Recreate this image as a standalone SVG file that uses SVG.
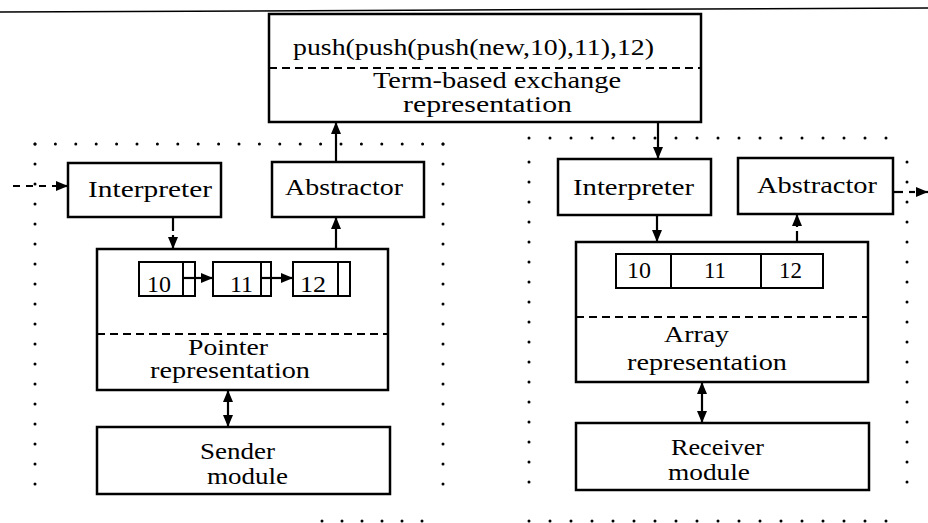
<svg xmlns="http://www.w3.org/2000/svg" width="928" height="523" viewBox="0 0 928 523">
<style>
.box{fill:#fff;stroke:#000;stroke-width:2.5}
.cell{fill:#fff;stroke:#000;stroke-width:2}
.div{stroke:#000;stroke-width:2}
.dash{stroke:#000;stroke-width:2.2;stroke-dasharray:8 5;fill:none}
.dots{stroke:#000;stroke-width:3;stroke-linecap:round;fill:none}
.t{font-family:"Liberation Serif","Times New Roman",serif;font-size:23px;fill:#000}
.c{stroke:#000;stroke-width:2.2;fill:none}
.cd{stroke:#000;stroke-width:2.2;fill:none;stroke-dasharray:7 6}
</style>
<defs>
<marker id="ah" markerUnits="userSpaceOnUse" markerWidth="12" markerHeight="10" refX="12" refY="5" orient="auto-start-reverse">
<path d="M0,0 L12,5 L0,10 z" fill="#000"/>
</marker>
</defs>
<rect width="928" height="523" fill="#fff"/>
<line x1="0" y1="12" x2="928" y2="8" stroke="#000" stroke-width="1.5"/>

<g id="region-left">
<line class="dots" x1="35" y1="144" x2="443" y2="144" stroke-dasharray="0 20.4"/>
<line class="dots" x1="35" y1="144" x2="35" y2="504" stroke-dasharray="0 20"/>
<line class="dots" x1="443" y1="144" x2="443" y2="504" stroke-dasharray="0 20"/>
<line class="dots" x1="322" y1="521" x2="442" y2="521" stroke-dasharray="0 20" stroke-width="2"/>
</g>
<g id="region-right">
<line class="dots" x1="529" y1="138" x2="907" y2="138" stroke-dasharray="0 21"/>
<line class="dots" x1="529" y1="162" x2="529" y2="502" stroke-dasharray="0 20"/>
<line class="dots" x1="907" y1="162" x2="907" y2="502" stroke-dasharray="0 20"/>
<line class="dots" x1="529" y1="521" x2="907" y2="521" stroke-dasharray="0 21" stroke-width="2"/>
</g>

<g id="connectors">
<line class="c" x1="336" y1="162" x2="336" y2="122" marker-end="url(#ah)"/>
<line class="c" x1="336" y1="249" x2="336" y2="217" marker-end="url(#ah)"/>
<line class="c" x1="173" y1="217" x2="173" y2="231"/>
<line class="c" x1="173" y1="235" x2="173" y2="249" marker-end="url(#ah)"/>
<line class="cd" x1="13" y1="186" x2="56" y2="186"/>
<line class="c" x1="56" y1="186" x2="68" y2="186" marker-end="url(#ah)"/>
<line class="c" x1="658" y1="122" x2="658" y2="159" marker-end="url(#ah)"/>
<line class="c" x1="657" y1="215" x2="657" y2="242" marker-end="url(#ah)"/>
<line class="c" x1="797" y1="243" x2="797" y2="231"/>
<line class="c" x1="797" y1="227" x2="797" y2="214" marker-end="url(#ah)"/>
<line class="c" x1="893" y1="192" x2="903" y2="192"/>
<line class="c" x1="909" y1="192" x2="915" y2="192"/>
<line class="c" x1="916" y1="192" x2="928" y2="192" marker-end="url(#ah)"/>
<line class="c" x1="228" y1="390" x2="228" y2="427" marker-start="url(#ah)" marker-end="url(#ah)"/>
<line class="c" x1="702" y1="382" x2="702" y2="423" marker-start="url(#ah)" marker-end="url(#ah)"/>
</g>

<g id="term-box">
<rect class="box" x="269" y="14" width="432" height="108"/>
<line class="dash" x1="269" y1="68" x2="701" y2="68"/>
<text class="t" x="293" y="55" textLength="361" lengthAdjust="spacingAndGlyphs">push(push(push(new,10),11),12)</text>
<text class="t" x="373" y="88" textLength="248" lengthAdjust="spacingAndGlyphs">Term-based exchange</text>
<text class="t" x="403" y="112" textLength="169" lengthAdjust="spacingAndGlyphs">representation</text>
</g>

<g id="interpreter-left">
<rect class="box" x="68" y="163" width="153" height="54"/>
<text class="t" x="88" y="197" textLength="124" lengthAdjust="spacingAndGlyphs">Interpreter</text>
</g>
<g id="abstractor-left">
<rect class="box" x="272" y="162" width="152" height="55"/>
<text class="t" x="285" y="195" textLength="118" lengthAdjust="spacingAndGlyphs">Abstractor</text>
</g>
<g id="pointer-repr">
<rect class="box" x="97" y="249" width="291" height="141"/>
<line class="dash" x1="97" y1="334" x2="388" y2="334"/>
<rect class="cell" x="139" y="262" width="56" height="34"/>
<line class="div" x1="183" y1="262" x2="183" y2="296"/>
<rect class="cell" x="213" y="262" width="58" height="34"/>
<line class="div" x1="261" y1="262" x2="261" y2="296"/>
<rect class="cell" x="293" y="262" width="57" height="34"/>
<line class="div" x1="338" y1="262" x2="338" y2="296"/>
<line class="c" x1="183" y1="278" x2="213" y2="278" marker-end="url(#ah)"/>
<line class="c" x1="261" y1="278" x2="293" y2="278" marker-end="url(#ah)"/>
<text class="t" x="147" y="292" textLength="24" lengthAdjust="spacingAndGlyphs">10</text>
<text class="t" x="230" y="292" textLength="23" lengthAdjust="spacingAndGlyphs">11</text>
<text class="t" x="300" y="292" textLength="26" lengthAdjust="spacingAndGlyphs">12</text>
<text class="t" x="188" y="355" textLength="80" lengthAdjust="spacingAndGlyphs">Pointer</text>
<text class="t" x="150" y="378" textLength="160" lengthAdjust="spacingAndGlyphs">representation</text>
</g>
<g id="sender">
<rect class="box" x="97" y="427" width="293" height="67"/>
<text class="t" x="200" y="459" textLength="75" lengthAdjust="spacingAndGlyphs">Sender</text>
<text class="t" x="207" y="484" textLength="81" lengthAdjust="spacingAndGlyphs">module</text>
</g>

<g id="interpreter-right">
<rect class="box" x="558" y="159" width="153" height="56"/>
<text class="t" x="573" y="195" textLength="121" lengthAdjust="spacingAndGlyphs">Interpreter</text>
</g>
<g id="abstractor-right">
<rect class="box" x="738" y="158" width="155" height="56"/>
<text class="t" x="757" y="193" textLength="120" lengthAdjust="spacingAndGlyphs">Abstractor</text>
</g>
<g id="array-repr">
<rect class="box" x="576" y="242" width="292" height="140"/>
<line class="dash" x1="576" y1="317" x2="868" y2="317"/>
<rect class="cell" x="616" y="254" width="207" height="34"/>
<line class="div" x1="671" y1="254" x2="671" y2="288"/>
<line class="div" x1="761" y1="254" x2="761" y2="288"/>
<text class="t" x="627" y="278" textLength="24" lengthAdjust="spacingAndGlyphs">10</text>
<text class="t" x="704" y="278" textLength="22" lengthAdjust="spacingAndGlyphs">11</text>
<text class="t" x="779" y="278" textLength="23" lengthAdjust="spacingAndGlyphs">12</text>
<text class="t" x="664" y="342" textLength="65" lengthAdjust="spacingAndGlyphs">Array</text>
<text class="t" x="627" y="370" textLength="160" lengthAdjust="spacingAndGlyphs">representation</text>
</g>
<g id="receiver">
<rect class="box" x="576" y="423" width="293" height="67"/>
<text class="t" x="671" y="455" textLength="93" lengthAdjust="spacingAndGlyphs">Receiver</text>
<text class="t" x="668" y="480" textLength="82" lengthAdjust="spacingAndGlyphs">module</text>
</g>
</svg>
